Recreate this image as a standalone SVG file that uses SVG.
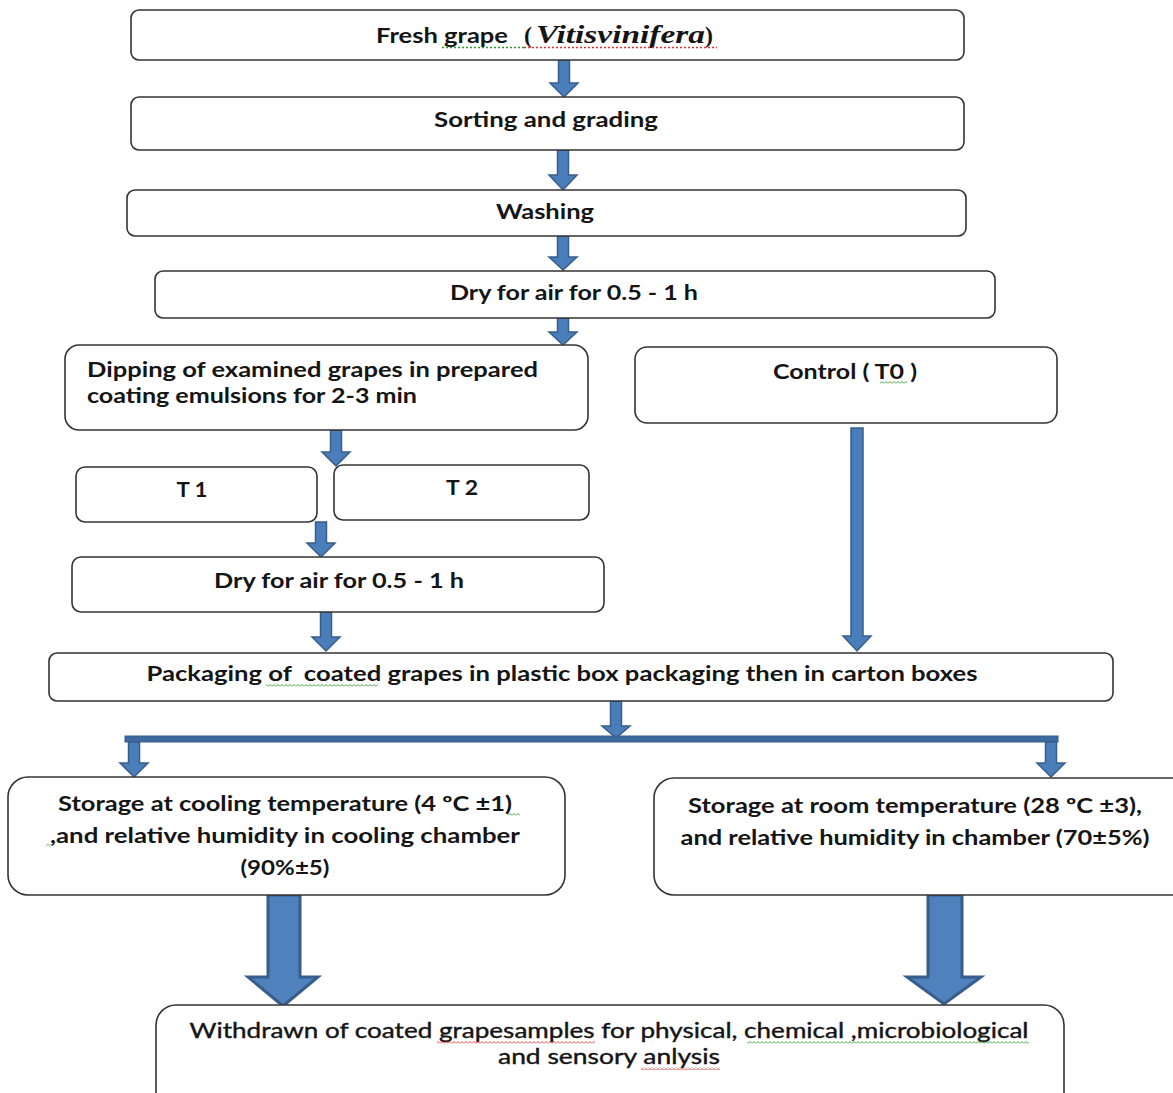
<svg xmlns="http://www.w3.org/2000/svg" width="1173" height="1093" viewBox="0 0 1173 1093">
<defs>
<style>
.box{fill:#fff;stroke:#333;stroke-width:1.6}
.t{font-family:Lato,"Liberation Sans",sans-serif;font-weight:700;font-size:21px;fill:#151515;text-anchor:middle}
.tl{text-anchor:start}
.tn{font-weight:400;font-size:22px;stroke:#151515;stroke-width:0.4}
.ar{fill:#4A7EBB;stroke:#385D8A;stroke-width:1.5;stroke-linejoin:miter}
.big{fill:#4F81BD;stroke:#385D8A;stroke-width:3}
</style>
<pattern id="wr" width="4" height="3" patternUnits="userSpaceOnUse"><path d="M0,2.5 L2,0.5 L4,2.5" stroke="#e03030" fill="none" stroke-width="0.9"/></pattern>
<pattern id="wg" width="4" height="3" patternUnits="userSpaceOnUse"><path d="M0,2.5 L2,0.5 L4,2.5" stroke="#2a9a2a" fill="none" stroke-width="0.9"/></pattern>
</defs>
<rect width="1173" height="1093" fill="#fff"/>

<g id="connectors">
<path class="ar" d="M558.5,60 H569.5 V83 H578 L564,97 L550,83 H558.5 Z"/>
<path class="ar" d="M557.5,150 H568.5 V175 H577 L563,190 L549,175 H557.5 Z"/>
<path class="ar" d="M557.5,236 H568.5 V257 H577 L563,270 L549,257 H557.5 Z"/>
<path class="ar" d="M557.5,318 H568.5 V332 H577 L563,345 L549,332 H557.5 Z"/>
<path class="ar" d="M330.5,430 H341.5 V452 H350 L336,466 L322,452 H330.5 Z"/>
<path class="ar" d="M315.5,522 H326.5 V543 H335 L321,557 L307,543 H315.5 Z"/>
<path class="ar" d="M320.5,612 H331.5 V637 H340 L326,651 L312,637 H320.5 Z"/>
<path class="ar" d="M851,428 H863 V636 H871 L857,651 L843,636 H851 Z"/>
<path class="ar" d="M610.5,701 H621.5 V726 H630 L616,738 L602,726 H610.5 Z"/>
<rect x="125" y="736" width="933" height="6" fill="#3D6A9E" stroke="#385D8A" stroke-width="1"/>
<path class="ar" d="M128.5,742 H139.5 V763 H148 L134,777 L120,763 H128.5 Z"/>
<path class="ar" d="M1045.5,742 H1056.5 V763 H1065 L1051,777 L1037,763 H1045.5 Z"/>
<path class="big" d="M268,895 H300 V977 H318 L283,1006 L248,977 H268 Z"/>
<path class="big" d="M928,895 H962 V977 H981 L944,1004 L907,977 H928 Z"/>
</g>

<g id="n1">
<rect class="box" x="131" y="10" width="833" height="50" rx="8"/>
<text class="t" x="442" y="43" textLength="132" lengthAdjust="spacingAndGlyphs">Fresh grape</text>
<text x="524" y="43" font-family="'Liberation Serif',serif" font-weight="700" font-size="24" fill="#151515">(</text>
<text x="536" y="43" font-family="'Liberation Serif',serif" font-weight="700" font-style="italic" font-size="26" fill="#151515" textLength="169" lengthAdjust="spacingAndGlyphs">Vitisvinifera</text>
<text x="705" y="43" font-family="'Liberation Serif',serif" font-weight="700" font-size="24" fill="#151515">)</text>
<line x1="442" y1="47.5" x2="524" y2="47.5" stroke="#2a9a2a" stroke-width="1.3" stroke-dasharray="2,2"/>
<line x1="524" y1="47.5" x2="717" y2="47.5" stroke="#e03030" stroke-width="1.3" stroke-dasharray="2,2"/>
</g>

<g id="n2">
<rect class="box" x="131" y="97" width="833" height="53" rx="8"/>
<text class="t" x="546" y="127" textLength="224" lengthAdjust="spacingAndGlyphs">Sorting and grading</text>
</g>

<g id="n3">
<rect class="box" x="127" y="190" width="839" height="46" rx="8"/>
<text class="t" x="545" y="219" textLength="98" lengthAdjust="spacingAndGlyphs">Washing</text>
</g>

<g id="n4">
<rect class="box" x="155" y="271" width="840" height="47" rx="8"/>
<text class="t" x="574" y="300" textLength="248" lengthAdjust="spacingAndGlyphs">Dry for air for 0.5 - 1 h</text>
</g>

<g id="n5">
<rect class="box" x="65" y="345" width="523" height="85" rx="14"/>
<text class="t tl" x="87" y="377" textLength="451" lengthAdjust="spacingAndGlyphs">Dipping of examined grapes in prepared</text>
<text class="t tl" x="87" y="403" textLength="330" lengthAdjust="spacingAndGlyphs">coating emulsions for 2-3 min</text>
</g>

<g id="n6">
<rect class="box" x="635" y="347" width="422" height="76" rx="12"/>
<text class="t" x="845" y="379" textLength="144" lengthAdjust="spacingAndGlyphs">Control ( T0 )</text>
<rect x="880" y="381" width="27" height="3" fill="url(#wg)"/>
</g>

<g id="n7">
<rect class="box" x="76" y="467" width="241" height="55" rx="9"/>
<text class="t" x="192" y="497" textLength="31" lengthAdjust="spacingAndGlyphs">T 1</text>
</g>

<g id="n8">
<rect class="box" x="334" y="465" width="255" height="55" rx="9"/>
<text class="t" x="462" y="495" textLength="32" lengthAdjust="spacingAndGlyphs">T 2</text>
</g>

<g id="n9">
<rect class="box" x="72" y="557" width="532" height="55" rx="9"/>
<text class="t" x="339" y="588" textLength="250" lengthAdjust="spacingAndGlyphs">Dry for air for 0.5 - 1 h</text>
</g>

<g id="n10">
<rect class="box" x="49" y="653" width="1064" height="48" rx="8"/>
<text class="t" x="562" y="681" textLength="831" lengthAdjust="spacingAndGlyphs">Packaging of&#160; coated grapes in plastic box packaging then in carton boxes</text>
<rect x="266" y="684" width="112" height="3" fill="url(#wg)"/>
</g>

<g id="n11">
<rect class="box" x="8" y="777" width="557" height="118" rx="20"/>
<text class="t" x="285" y="811" textLength="454" lengthAdjust="spacingAndGlyphs">Storage at cooling temperature (4 ºC ±1)</text>
<text class="t" x="285" y="843" textLength="470" lengthAdjust="spacingAndGlyphs">,and relative humidity in cooling chamber</text>
<text class="t" x="285" y="875" textLength="89" lengthAdjust="spacingAndGlyphs">(90%±5)</text>
<rect x="508" y="813" width="12" height="3" fill="url(#wg)"/>
<rect x="46" y="844" width="6" height="3" fill="url(#wg)"/>
</g>

<g id="n12">
<rect class="box" x="654" y="778" width="540" height="117" rx="20"/>
<text class="t" x="915" y="813" textLength="454" lengthAdjust="spacingAndGlyphs">Storage at room temperature (28 ºC ±3),</text>
<text class="t" x="915" y="845" textLength="469" lengthAdjust="spacingAndGlyphs">and relative humidity in chamber (70±5%)</text>
</g>

<g id="n13">
<rect class="box" x="156" y="1005" width="908" height="110" rx="20"/>
<text class="t tn" x="609" y="1038" textLength="839" lengthAdjust="spacingAndGlyphs">Withdrawn of coated grapesamples for physical, chemical ,microbiological</text>
<text class="t tn" x="609" y="1064" textLength="222" lengthAdjust="spacingAndGlyphs">and sensory anlysis</text>
<rect x="437" y="1041" width="158" height="3" fill="url(#wr)"/>
<rect x="747" y="1041" width="282" height="3" fill="url(#wg)"/>
<rect x="641" y="1067" width="79" height="3" fill="url(#wr)"/>
</g>
</svg>
